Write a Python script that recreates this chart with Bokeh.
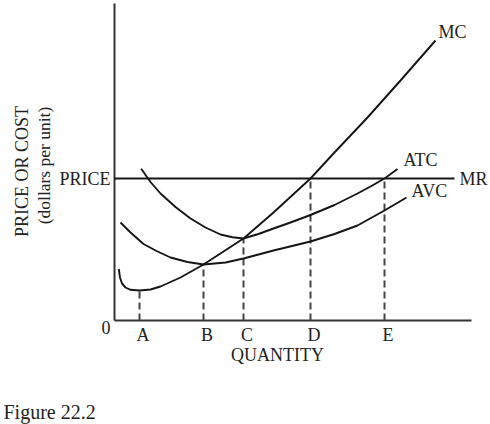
from bokeh.plotting import figure
from bokeh.models import Range1d
from bokeh.core.properties import value
from bokeh.embed import file_html
from bokeh.resources import INLINE
import math

# ---- data ----
qty_ticks = [2.5, 8.9, 12.9, 19.6, 27.0]
qty_labels = ["A", "B", "C", "D", "E"]
price = 14.2
qty_max = 35.7
cost_max = 31.7
mr_end = 34.0
dash_tops = [3.0, 5.6, 8.2, 14.2, 14.2]

mc_x = [0.43, 0.55, 0.75, 1.1, 1.6, 2.5, 3.6, 4.6, 6.6, 8.9, 12.9, 15.9, 19.6, 21.9, 25.3, 28.6, 32.1]
mc_y = [5.15, 4.3, 3.7, 3.3, 3.07, 3.0, 3.1, 3.4, 4.3, 5.6, 8.2, 10.8, 14.2, 16.7, 20.3, 24.0, 28.0]

atc_x = [2.67, 3.6, 4.6, 6.1, 7.6, 9.1, 10.6, 11.8, 12.9, 14.4, 15.9, 17.6, 19.6, 22.0, 24.3, 25.6, 27.0, 28.3]
atc_y = [15.17, 13.85, 12.7, 11.35, 10.2, 9.3, 8.6, 8.33, 8.2, 8.65, 9.2, 9.8, 10.55, 11.55, 12.7, 13.4, 14.2, 15.15]

avc_x = [0.6, 1.6, 2.9, 4.2, 5.6, 7.3, 8.9, 11.1, 12.9, 15.9, 19.6, 22.0, 24.3, 27.0, 29.2]
avc_y = [9.8, 8.8, 7.65, 6.95, 6.3, 5.85, 5.6, 5.8, 6.2, 7.0, 7.9, 8.65, 9.5, 11.0, 12.3]

FONT = value("Liberation Serif")
TXT = "#222222"
LINE = "#151515"

p = figure(width=490, height=424, output_backend="svg", toolbar_location=None,
           x_range=Range1d(-11.4, 37.6), y_range=Range1d(-10.4, 32.0),
           min_border=0, title=None)
p.outline_line_color = None
p.xaxis.visible = False
p.yaxis.visible = False
p.xgrid.visible = False
p.ygrid.visible = False
p.background_fill_color = "white"
p.border_fill_color = "white"

# axes (L shape)
p.line([0, qty_max], [0, 0], line_color="#333333", line_width=2)
p.line([0, 0], [0, cost_max], line_color="#333333", line_width=2)

# dashed guides
p.segment(x0=qty_ticks, y0=[0] * len(qty_ticks), x1=qty_ticks, y1=dash_tops,
          line_color="#444444", line_width=2, line_dash="7 4")

# MR / price line
p.line([0, mr_end], [price, price], line_color=LINE, line_width=2)

# curves
p.line(mc_x, mc_y, line_color=LINE, line_width=1.9)
p.line(atc_x, atc_y, line_color=LINE, line_width=1.9)
p.line(avc_x, avc_y, line_color=LINE, line_width=1.9)

def txt(x, y, text, align="left", size="18px", angle=0.0):
    p.text(x=x, y=y, text=text, text_font=FONT, text_font_size=size,
           text_color=TXT, text_align=align, text_baseline="middle", angle=angle)

# tick labels
txt([t + 0.35 for t in qty_ticks], [-1.4] * len(qty_ticks), qty_labels, align="center")
txt([-0.4], [price], ["PRICE"], align="right")
txt([-0.4], [-0.7], ["0"], align="right")

# curve labels
txt([32.4], [28.9], ["MC"])
txt([28.9], [16.1], ["ATC"])
txt([29.7], [13.0], ["AVC"])
txt([34.5], [price], ["MR"])

# axis titles
txt([16.3], [-3.4], ["QUANTITY"], align="center")
txt([-9.3], [14.9], ["PRICE OR COST"], align="center", size="18px", angle=math.pi / 2)
txt([-7.1], [15.5], ["(dollars per unit)"], align="center", size="17.5px", angle=math.pi / 2)

# caption
txt([-11.1], [-9.1], ["Figure 22.2"], size="20px")

open("out.html", "w").write(file_html(p, INLINE))
